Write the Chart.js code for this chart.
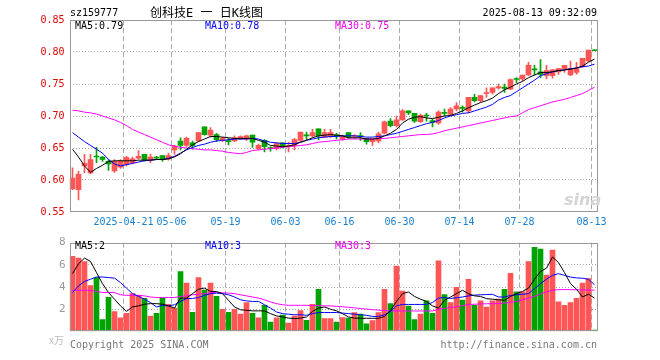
<!DOCTYPE html>
<html>
<head>
<meta charset="utf-8">
<script src="https://cdn.jsdelivr.net/npm/chart.js@4.4.1/dist/chart.umd.min.js"></script>
<style>
  html, body { margin: 0; padding: 0; background: #fff; }
  #wrap { position: relative; width: 660px; height: 360px; overflow: hidden; font-family: 'DejaVu Sans Mono', monospace; font-size: 10px; }
  #wrap canvas { position: absolute; left: 0; }
  .t { position: absolute; white-space: nowrap; line-height: 12px; }
</style>
</head>
<body>
<div id="wrap">
  <canvas id="kline" width="660" height="232" style="top:0"></canvas>
  <canvas id="vol" width="660" height="110" style="top:232px"></canvas>

  <div class="t" style="left:70px;top:7px;color:#000">sz159777</div>
  <div class="t" style="left:150px;top:6px;font-size:12px;line-height:14px;color:#000;font-family:'DejaVu Sans Mono','Noto Sans CJK SC',monospace">创科技E 一 日K线图</div>
  <div class="t" style="right:63px;top:7px;color:#000">2025-08-13 09:32:09</div>

  <div class="t" style="left:75px;top:20px;color:#000">MA5:0.79</div>
  <div class="t" style="left:205px;top:20px;color:#0000ff">MA10:0.78</div>
  <div class="t" style="left:335px;top:20px;color:#ee00ee">MA30:0.75</div>

  <div class="t" style="left:564px;top:190px;font:italic bold 16px 'DejaVu Sans',sans-serif;color:#d4d4d4">sina</div>

  <div class="t" style="left:75px;top:240px;color:#000">MA5:2</div>
  <div class="t" style="left:205px;top:240px;color:#0000ff">MA10:3</div>
  <div class="t" style="left:335px;top:240px;color:#ee00ee">MA30:3</div>

  <div class="t" style="left:49px;top:334px;color:#bbb;font-family:'Noto Sans CJK SC',sans-serif">x万</div>
  <div class="t" style="left:70px;top:339px;color:#777">Copyright 2025 SINA.COM</div>
  <div class="t" style="right:63px;top:339px;color:#777">http://finance.sina.com.cn</div>
</div>

<script>
// trading days shown on the chart
const dates = [
  '2025-04-08','2025-04-09','2025-04-10','2025-04-11','2025-04-14','2025-04-15','2025-04-16','2025-04-17','2025-04-18','2025-04-21',
  '2025-04-22','2025-04-23','2025-04-24','2025-04-25','2025-04-28','2025-04-29','2025-04-30',
  '2025-05-06','2025-05-07','2025-05-08','2025-05-09','2025-05-12','2025-05-13','2025-05-14','2025-05-15','2025-05-16','2025-05-19',
  '2025-05-20','2025-05-21','2025-05-22','2025-05-23','2025-05-26','2025-05-27','2025-05-28','2025-05-29','2025-05-30',
  '2025-06-03','2025-06-04','2025-06-05','2025-06-06','2025-06-09','2025-06-10','2025-06-11','2025-06-12','2025-06-13','2025-06-16',
  '2025-06-17','2025-06-18','2025-06-19','2025-06-20','2025-06-23','2025-06-24','2025-06-25','2025-06-26','2025-06-27','2025-06-30',
  '2025-07-01','2025-07-02','2025-07-03','2025-07-04','2025-07-07','2025-07-08','2025-07-09','2025-07-10','2025-07-11','2025-07-14',
  '2025-07-15','2025-07-16','2025-07-17','2025-07-18','2025-07-21','2025-07-22','2025-07-23','2025-07-24','2025-07-25','2025-07-28',
  '2025-07-29','2025-07-30','2025-07-31','2025-08-01','2025-08-04','2025-08-05','2025-08-06','2025-08-07','2025-08-08','2025-08-11',
  '2025-08-12','2025-08-13'
];
const tickDates = ['2025-04-21','2025-05-06','2025-05-19','2025-06-03','2025-06-16','2025-06-30','2025-07-14','2025-07-28','2025-08-13'];
const tickLabels = ['2025-04-21','05-06','05-19','06-03','06-16','06-30','07-14','07-28','08-13'];

const open = [
  0.586,0.585,0.622,0.611,0.637,0.636,0.629,0.614,0.620,0.624,
  0.627,0.634,0.640,0.631,0.636,0.638,0.633,0.647,0.661,0.654,
  0.658,0.661,0.683,0.670,0.671,0.662,0.661,0.661,0.665,0.664,
  0.670,0.649,0.662,0.650,0.649,0.658,0.652,0.654,0.662,0.670,
  0.669,0.680,0.667,0.668,0.670,0.664,0.674,0.668,0.669,0.665,
  0.660,0.661,0.673,0.692,0.685,0.694,0.708,0.704,0.691,0.701,
  0.693,0.689,0.705,0.703,0.711,0.713,0.708,0.729,0.724,0.735,
  0.737,0.744,0.745,0.742,0.758,0.758,0.764,0.773,0.769,0.763,
  0.763,0.769,0.774,0.764,0.768,0.777,0.786,0.803
];
const close = [
  0.603,0.609,0.626,0.632,0.636,0.632,0.625,0.629,0.630,0.635,
  0.633,0.637,0.631,0.636,0.634,0.633,0.638,0.653,0.654,0.665,
  0.654,0.674,0.671,0.678,0.663,0.665,0.660,0.666,0.668,0.669,
  0.659,0.654,0.652,0.649,0.657,0.652,0.654,0.663,0.675,0.669,
  0.674,0.669,0.674,0.674,0.669,0.668,0.667,0.669,0.668,0.660,
  0.664,0.672,0.691,0.685,0.694,0.708,0.705,0.692,0.701,0.700,
  0.690,0.706,0.704,0.711,0.716,0.712,0.729,0.724,0.732,0.736,
  0.744,0.746,0.743,0.757,0.757,0.764,0.779,0.772,0.765,0.771,
  0.772,0.774,0.779,0.774,0.774,0.790,0.803,0.802
];
const high = [
  0.619,0.614,0.640,0.640,0.651,0.637,0.632,0.632,0.632,0.637,
  0.636,0.646,0.640,0.640,0.637,0.638,0.642,0.654,0.666,0.667,
  0.661,0.674,0.683,0.682,0.673,0.667,0.665,0.669,0.669,0.670,
  0.670,0.656,0.663,0.652,0.659,0.658,0.659,0.665,0.675,0.675,
  0.679,0.680,0.679,0.679,0.673,0.670,0.674,0.671,0.674,0.665,
  0.664,0.675,0.692,0.696,0.700,0.710,0.708,0.704,0.703,0.704,
  0.695,0.708,0.711,0.713,0.721,0.716,0.729,0.734,0.732,0.744,
  0.744,0.750,0.750,0.758,0.760,0.764,0.784,0.779,0.788,0.779,
  0.773,0.774,0.779,0.786,0.784,0.790,0.803,0.803
];
const low = [
  0.585,0.569,0.611,0.610,0.627,0.629,0.615,0.612,0.618,0.622,
  0.625,0.633,0.630,0.627,0.632,0.629,0.631,0.640,0.647,0.652,
  0.648,0.660,0.670,0.667,0.660,0.660,0.655,0.660,0.663,0.662,
  0.651,0.647,0.644,0.645,0.647,0.650,0.644,0.647,0.660,0.663,
  0.667,0.663,0.666,0.666,0.664,0.662,0.665,0.665,0.662,0.656,
  0.654,0.658,0.672,0.683,0.683,0.693,0.702,0.690,0.690,0.692,
  0.683,0.687,0.700,0.700,0.708,0.706,0.705,0.722,0.722,0.729,
  0.734,0.742,0.737,0.741,0.752,0.755,0.763,0.764,0.760,0.758,
  0.759,0.765,0.768,0.763,0.765,0.776,0.785,0.802
];

// moving averages as drawn on the chart
const ma5 = [
  0.648,0.636,0.622,0.612,0.618,0.623,0.629,0.630,0.630,0.630,
  0.630,0.631,0.631,0.631,0.632,0.632,0.633,0.636,0.641,0.648,
  0.655,0.660,0.664,0.668,0.668,0.667,0.666,0.665,0.665,0.665,
  0.665,0.662,0.659,0.654,0.653,0.652,0.653,0.655,0.659,0.662,
  0.666,0.669,0.670,0.671,0.670,0.669,0.666,0.666,0.666,0.664,
  0.664,0.665,0.669,0.673,0.679,0.689,0.695,0.698,0.699,0.697,
  0.696,0.698,0.700,0.701,0.704,0.708,0.713,0.717,0.721,0.724,
  0.728,0.735,0.741,0.745,0.750,0.754,0.760,0.764,0.768,0.768,
  0.769,0.771,0.772,0.773,0.775,0.778,0.784,0.789
];
const ma10 = [
  0.674,0.667,0.660,0.654,0.648,0.642,0.632,0.625,0.622,0.624,
  0.626,0.628,0.630,0.631,0.632,0.632,0.634,0.637,0.642,0.647,
  0.651,0.654,0.656,0.659,0.661,0.662,0.663,0.664,0.664,0.664,
  0.665,0.664,0.661,0.659,0.658,0.657,0.657,0.657,0.659,0.662,
  0.664,0.666,0.667,0.668,0.668,0.669,0.669,0.669,0.668,0.667,
  0.667,0.668,0.669,0.671,0.673,0.676,0.679,0.682,0.685,0.688,
  0.690,0.693,0.697,0.700,0.702,0.704,0.705,0.708,0.711,0.714,
  0.718,0.725,0.729,0.732,0.738,0.744,0.750,0.756,0.763,0.766,
  0.769,0.771,0.772,0.774,0.775,0.777,0.778,0.781
];
const ma30 = [
  0.709,0.708,0.706,0.705,0.703,0.700,0.697,0.694,0.690,0.685,
  0.679,0.675,0.671,0.667,0.663,0.659,0.655,0.653,0.651,0.650,
  0.649,0.648,0.647,0.647,0.646,0.645,0.643,0.642,0.641,0.643,
  0.646,0.647,0.648,0.649,0.650,0.651,0.652,0.653,0.654,0.655,
  0.657,0.659,0.660,0.661,0.662,0.663,0.664,0.664,0.664,0.664,
  0.664,0.665,0.665,0.666,0.667,0.668,0.669,0.670,0.671,0.671,
  0.672,0.674,0.677,0.679,0.681,0.683,0.685,0.687,0.689,0.691,
  0.693,0.695,0.697,0.699,0.700,0.705,0.710,0.713,0.716,0.719,
  0.722,0.724,0.726,0.729,0.732,0.735,0.740,0.745
];

// volume (x万)
const volume = [
  6.76,6.60,6.28,4.12,4.84,1.07,3.07,1.79,1.23,1.63,
  3.40,3.24,2.99,1.39,1.63,2.99,2.43,2.11,5.40,4.36,
  1.71,4.84,3.72,4.36,3.16,1.98,1.71,1.98,1.55,2.59,
  1.63,1.23,2.35,0.83,1.23,1.47,0.75,1.39,1.87,0.99,
  2.43,3.80,1.15,1.15,0.83,1.25,1.20,1.70,1.55,0.68,
  0.98,1.70,3.80,2.51,5.88,3.64,2.27,1.07,1.55,2.75,
  1.63,6.36,3.32,2.59,3.96,2.83,4.68,2.35,2.75,2.19,
  2.75,2.91,3.80,5.24,3.56,3.56,6.28,7.57,7.41,5.08,
  7.33,2.67,2.35,2.59,2.99,4.36,4.76,0.11
];
const vma5 = [
  5.2,6.1,6.6,6.3,5.3,4.3,3.5,2.9,2.3,1.8,
  2.2,2.3,2.45,2.5,2.5,2.45,2.3,2.1,3.0,3.0,
  3.4,3.8,3.9,3.6,3.6,3.4,2.8,2.2,1.95,1.9,
  1.85,1.85,1.85,1.6,1.4,1.3,1.2,1.15,1.2,1.3,
  1.8,2.1,2.2,2.0,1.85,1.6,1.3,1.2,1.18,1.18,
  1.18,1.18,1.35,1.9,2.7,3.4,3.55,3.15,2.9,2.7,
  2.3,2.1,2.8,3.1,3.4,3.7,3.4,3.2,3.15,2.95,
  2.9,2.85,2.8,3.15,3.4,3.6,3.9,4.7,5.4,5.7,
  6.7,6.2,5.3,4.3,3.8,3.1,3.35,3.0
];
const vma10 = [
  3.5,4.1,4.5,4.7,4.9,4.9,4.85,4.8,4.4,3.9,
  3.4,3.15,2.9,2.6,2.2,2.35,2.3,2.4,2.7,2.95,
  2.97,3.05,3.25,3.4,3.45,3.4,3.3,3.1,2.85,2.75,
  2.7,2.7,2.4,2.1,1.75,1.6,1.55,1.5,1.5,1.45,
  1.6,1.7,1.7,1.7,1.7,1.65,1.6,1.55,1.5,1.45,
  1.35,1.35,1.5,1.8,2.3,2.43,2.43,2.43,2.43,2.43,
  2.6,3.0,3.05,2.97,3.03,3.1,3.2,3.27,3.3,3.32,
  3.34,3.1,3.1,3.24,3.3,3.35,3.4,3.85,4.3,4.71,
  5.05,5.2,5.05,4.89,4.82,4.79,4.7,4.2
];
const vma30 = [
  3.7,3.7,3.7,3.7,3.6,3.5,3.5,3.5,3.3,3.25,
  3.25,3.25,3.2,3.1,3.05,3.05,3.05,3.05,3.15,3.2,
  3.3,3.35,3.4,3.48,3.5,3.48,3.45,3.4,3.3,3.2,
  3.1,3.0,2.85,2.65,2.5,2.4,2.35,2.35,2.35,2.35,
  2.33,2.32,2.3,2.3,2.26,2.22,2.17,2.12,2.06,2.01,
  1.96,1.91,1.88,1.85,1.84,1.84,1.84,1.84,1.84,1.84,
  1.84,2.0,2.07,2.15,2.22,2.32,2.42,2.45,2.47,2.49,
  2.5,2.51,2.55,2.62,2.7,2.85,3.0,3.15,3.38,3.55,
  3.7,3.77,3.77,3.76,3.75,3.73,3.72,3.72
];

const RED = '#ff5555';
const GREEN = '#00a300';
const MONO = "'DejaVu Sans Mono', monospace";

Chart.defaults.font.family = MONO;
Chart.defaults.font.size = 10;

const tickIdx = tickDates.map(d => dates.indexOf(d));
const upDown = open.map((o, i) => (close[i] >= o ? RED : GREEN));
const bodies = open.map((o, i) => [Math.min(o, close[i]), Math.max(o, close[i])]);
const wicks = low.map((l, i) => [l, high[i]]);

// grey frame round the plot area
const frame = {
  id: 'frame',
  afterDraw(chart) {
    const a = chart.chartArea;
    const ctx = chart.ctx;
    const l = Math.round(a.left) + 0.5, r = Math.round(a.right) - 0.5;
    const t = Math.round(a.top) + 0.5, b = Math.round(a.bottom) - 0.5;
    ctx.save();
    ctx.strokeStyle = '#999';
    ctx.lineWidth = 1;
    ctx.strokeRect(l, t, r - l, b - t);
    ctx.restore();
  }
};

const maLine = (data, color) => ({
  type: 'line', data, borderColor: color, borderWidth: 1,
  pointRadius: 0, fill: false, tension: 0, order: 0
});

const xGridColor = c => (tickIdx.includes(c.index) ? '#aaa' : 'rgba(0,0,0,0)');

// left edge at 69.5 and 6px per day so bars land on whole pixels
new Chart(document.getElementById('kline'), {
  type: 'bar',
  data: {
    labels: dates,
    datasets: [
      maLine(ma5, '#000'),
      maLine(ma10, '#0000ff'),
      maLine(ma30, '#ff00ff'),
      { data: bodies, backgroundColor: upDown, barThickness: 5, minBarLength: 1, grouped: false, order: 1 },
      { data: wicks, backgroundColor: upDown, barThickness: 1, minBarLength: 1, grouped: false, order: 2 }
    ]
  },
  options: {
    responsive: false,
    animation: false,
    devicePixelRatio: 1,
    layout: { padding: { top: 20, right: 62.5, left: 0, bottom: 0 } },
    plugins: { legend: { display: false }, tooltip: { enabled: false } },
    scales: {
      x: {
        grid: { offset: true, drawTicks: false, color: xGridColor },
        border: { display: false, dash: [5, 3] },
        ticks: {
          autoSkip: false, maxRotation: 0, minRotation: 0, padding: 4, labelOffset: -3,
          color: '#1a80d0',
          callback: (v, i) => { const k = tickIdx.indexOf(i); return k >= 0 ? tickLabels[k] : ''; }
        },
        afterFit: s => { s.height = 20; }
      },
      y: {
        min: 0.55, max: 0.85,
        grid: {
          drawTicks: false,
          color: c => (c.tick && (Math.abs(c.tick.value - 0.55) < 1e-6 || Math.abs(c.tick.value - 0.85) < 1e-6) ? 'rgba(0,0,0,0)' : '#aaa')
        },
        border: { display: false, dash: [1, 2] },
        ticks: { stepSize: 0.05, padding: 5, color: '#e00000', callback: v => v.toFixed(2) },
        afterFit: s => { s.width = 69.5; }
      }
    }
  },
  plugins: [frame]
});

new Chart(document.getElementById('vol'), {
  type: 'bar',
  data: {
    labels: dates,
    datasets: [
      maLine(vma5, '#000'),
      maLine(vma10, '#0000ff'),
      maLine(vma30, '#ff00ff'),
      { data: volume, backgroundColor: upDown, barThickness: 5, order: 1 }
    ]
  },
  options: {
    responsive: false,
    animation: false,
    devicePixelRatio: 1,
    layout: { padding: { top: 9, right: 62.5, left: 0, bottom: 2 } },
    plugins: { legend: { display: false }, tooltip: { enabled: false } },
    scales: {
      x: {
        grid: { offset: true, drawTicks: false, color: xGridColor },
        border: { display: false, dash: [5, 3] },
        ticks: { display: false, autoSkip: false },
        afterFit: s => { s.height = 0; }
      },
      y: {
        min: 0, max: 8,
        grid: { drawTicks: false, color: c => (c.tick && (c.tick.value === 0 || c.tick.value === 8) ? 'rgba(0,0,0,0)' : '#aaa') },
        border: { display: false, dash: [1, 2] },
        ticks: { stepSize: 2, padding: 4, color: '#999', font: { size: 11 }, callback: v => (v === 0 ? '' : String(v)) },
        afterFit: s => { s.width = 69.5; }
      }
    }
  },
  plugins: [frame]
});
</script>
</body>
</html>
